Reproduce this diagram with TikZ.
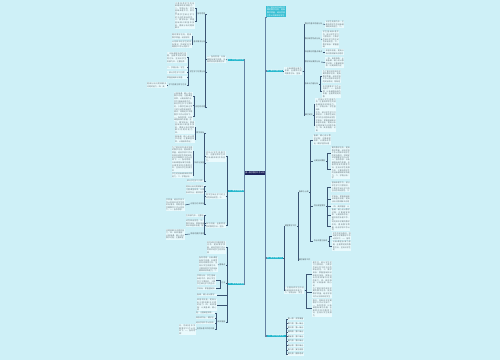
\documentclass[tikz,border=0pt]{standalone}
\usepackage{fontspec}
\setmainfont{Noto Sans CJK SC}
\usepackage{xstring}
\XeTeXlinebreaklocale "zh"
\XeTeXlinebreakskip=0pt plus 1pt
\definecolor{bgc}{RGB}{206,240,247}
\definecolor{blkfill}{RGB}{234,250,253}
\definecolor{txtgray}{RGB}{100,115,122}
\definecolor{linec}{RGB}{60,85,115}
\definecolor{trunkc}{RGB}{100,130,162}
\definecolor{tealc}{RGB}{32,182,204}
\definecolor{navyc}{RGB}{28,36,92}
\definecolor{notec}{RGB}{58,192,212}
\newcommand\tiniest{\fontsize{1.1pt}{1.45pt}\selectfont}
\newcommand\pool{为了更好地完成本学期的教学任务，提高教学质量，结合学校工作计划和本班学生的实际情况，特制定本学期教学工作计划如下。一、指导思想：以新课程标准为依据，全面贯彻党的教育方针，坚持以学生发展为本，注重培养学生的创新精神和实践能力。二、学情分析：学生基础参差不齐，部分学生学习习惯较好，少数学生缺乏学习的主动性和自觉性。三、教学目标：掌握基础知识和基本技能，提高分析问题和解决问题的能力。四、具体措施：认真备课，精心设计教学过程；注重课堂效率，认真批改作业；做好培优补差工作，关注每一位学生。}
\newcommand\tx[2]{\StrMid{\pool}{#1}{#2}}
\tikzset{
  blk/.style={text width=#1, align=justify, fill=blkfill, text=txtgray, inner sep=0.25pt, font=\tiniest},
  lbl/.style={text=txtgray!80!black, inner sep=0.25pt, font=\tiniest},
  mainbr/.style={fill=tealc, text=white, inner sep=0.3pt, minimum width=3.3mm, font=\tiniest},
  rootbox/.style={fill=navyc, text=white, inner sep=0.4pt, minimum width=4mm, font=\tiniest},
  notebox/.style={fill=notec, text=white, text width=3.6mm, align=justify, inner sep=0.4pt, font=\tiniest},
  link/.style={draw=linec, line width=0.3pt},
  trunk/.style={draw=trunkc, line width=0.6pt}
}
\begin{document}
\begin{tikzpicture}[x=0.02cm,y=-0.02cm]
\fill[bgc] (0,0) rectangle (500,360);
\useasboundingbox (0,0) rectangle (500,360);

% centre
\node[rootbox] (root) at (255,173) {高一数学教学工作计划};

% left, first branch
\node[mainbr] (L1) at (236,60) {一、学生情况分析};
\node[blk=3.6mm,anchor=east] (L1a) at (226,59.5) {\tx{58}{84}};
\node[lbl,anchor=east] (n11) at (206,14) {指导思想};
\node[blk=3.8mm,anchor=east] (b111) at (195,8.5) {\tx{96}{131}};
\node[blk=3.8mm,anchor=east] (b112) at (195,21.5) {\tx{140}{184}};
\node[lbl,anchor=east] (n12) at (206,42) {基本情况分析};
\node[blk=3.8mm,anchor=east] (b121) at (192,36) {\tx{10}{27}};
\node[blk=3.8mm,anchor=east] (b122) at (192,44.5) {\tx{30}{56}};
\node[lbl,anchor=east] (n13) at (206,72) {学生学习习惯分析};
\node[blk=3.8mm,anchor=east] (b131) at (187,57.5) {\tx{64}{99}};
\node[blk=3.8mm,anchor=east] (b132) at (187,67.5) {\tx{113}{121}};
\node[blk=3.8mm,anchor=east] (b133) at (187,72.5) {\tx{128}{136}};
\node[blk=3.8mm,anchor=east] (b134) at (187,77.5) {\tx{164}{171}};
\node[lbl,anchor=east] (n135) at (187,85) {学习态度与学习方法};
\node[blk=3.8mm,anchor=east] (b1351) at (167,85) {\tx{176}{193}};
\node[lbl,anchor=east] (n14) at (206,107) {存在的问题};
\node[blk=3.6mm,anchor=east] (b141) at (193,96) {\tx{198}{224}};
\node[blk=3.6mm,anchor=east] (b142) at (193,105.5) {\tx{120}{155}};
\node[blk=3.6mm,anchor=east] (b143) at (193,116) {\tx{40}{75}};

% left, second branch
\node[mainbr] (L2) at (236.5,191) {二、教学目标要求};
\node[blk=3.8mm,anchor=east] (L2a) at (226,156.5) {\tx{86}{112}};
\node[lbl,anchor=east] (n21) at (205,133) {教学目标};
\node[blk=3.8mm,anchor=east] (b211) at (195,127.5) {\tx{157}{192}};
\node[blk=3.8mm,anchor=east] (b212) at (195,139) {\tx{199}{225}};
\node[lbl,anchor=east] (n22) at (205,163) {知识与技能};
\node[blk=4mm,anchor=east] (b221) at (193,151.5) {\tx{1}{40}};
\node[blk=4mm,anchor=east] (b222) at (193,164) {\tx{45}{94}};
\node[blk=4mm,anchor=east] (b223) at (193,175.5) {\tx{100}{119}};
\node[blk=3.4mm,anchor=east] (b23) at (205,181) {\tx{129}{136}};
\node[blk=3.8mm,anchor=east] (L2b) at (226,196) {\tx{141}{158}};
\node[blk=3.6mm,anchor=east] (b24) at (205,186.5) {\tx{176}{184}};
\node[blk=3.6mm,anchor=east] (b25) at (205,191.5) {\tx{212}{229}};
\node[lbl,anchor=east] (n27) at (205,204) {过程与方法目标};
\node[blk=3.6mm,anchor=east] (b271) at (185,205) {\tx{20}{64}};
\node[blk=3.8mm,anchor=east] (L2c) at (226,225.5) {\tx{70}{87}};
\node[blk=3.6mm,anchor=east] (b28) at (205,215.5) {\tx{90}{98}};
\node[blk=3.6mm,anchor=east] (b29) at (205,223.5) {\tx{150}{176}};
\node[lbl,anchor=east] (n2a) at (205,234) {情感态度价值观};
\node[blk=3.6mm,anchor=east] (b2a1) at (185,234.5) {\tx{180}{215}};

% left, third branch
\node[mainbr] (L3) at (236.5,284) {三、教学具体措施};
\node[blk=3.6mm,anchor=east] (b31) at (226,247.5) {\tx{5}{40}};
\node[lbl,anchor=east] (n32) at (226,265) {重难点};
\node[blk=3.6mm,anchor=east] (b32) at (218,264.5) {\tx{60}{113}};
\node[lbl,anchor=east] (n33) at (226,283) {方法};
\node[blk=3.6mm,anchor=east] (b331) at (216,280) {\tx{115}{150}};
\node[blk=3.6mm,anchor=east] (b332) at (216,288.5) {\tx{160}{168}};
\node[blk=3.8mm,anchor=east] (b34) at (217,295) {\tx{200}{208}};
\node[blk=3.8mm,anchor=east] (b35) at (217,305) {\tx{170}{205}};
\node[lbl,anchor=east] (n36) at (226,322) {具体措施};
\node[blk=3.6mm,anchor=east] (b361) at (215,313) {\tx{210}{218}};
\node[blk=3.6mm,anchor=east] (b362) at (215,318) {\tx{220}{228}};
\node[blk=3.6mm,anchor=east] (b363) at (215,323) {\tx{24}{32}};
\node[lbl,anchor=east] (n364) at (215,329) {培优补差工作的开展};
\node[blk=3.2mm,anchor=east] (b3641) at (196,329.5) {\tx{41}{64}};

% right, note and first branch
\node[notebox,anchor=west] (R0) at (266,11.5) {\tx{1}{36}};
\node[mainbr] (R1) at (274.5,71) {四、教材内容分析};
\node[blk=3.4mm,anchor=west] (R1a) at (284,71) {\tx{64}{87}};
\node[lbl,anchor=west] (n11r) at (304,24) {教材的基本内容分析};
\node[blk=3.6mm,anchor=west] (b11r) at (325,24.5) {\tx{88}{114}};
\node[lbl,anchor=west] (n12r) at (304,39) {教材编写特点分析};
\node[blk=3.2mm,anchor=west] (b12r) at (322,39.5) {\tx{120}{167}};
\node[lbl,anchor=west] (n13r) at (304,52) {本册教材的重点难点};
\node[blk=3.6mm,anchor=west] (b13r) at (325,52) {\tx{170}{187}};
\node[lbl,anchor=west] (n14r) at (304,62) {教学目标要求分析};
\node[blk=3.6mm,anchor=west] (b14r) at (325,62.5) {\tx{190}{225}};
\node[lbl,anchor=west] (n15r) at (304,84) {各单元内容分析};
\node[blk=3.6mm,anchor=west] (b151r) at (322,76.5) {\tx{1}{45}};
\node[blk=3.6mm,anchor=west] (b152r) at (322,91.5) {\tx{46}{81}};
\node[lbl,anchor=west] (n16r) at (304,115) {课时安排};
\node[blk=4mm,anchor=west] (b161r) at (315,104.5) {\tx{85}{124}};
\node[blk=4mm,anchor=west] (b162r) at (315,115) {\tx{126}{155}};
\node[blk=4mm,anchor=west] (b163r) at (315,125.5) {\tx{160}{199}};

% right, second branch
\node[mainbr] (R2) at (274.5,258) {五、教学常规工作};
\node[lbl,anchor=west] (n21r) at (284,226) {课堂教学工作};
\node[lbl,anchor=west] (n211) at (298,192) {备课与上课};
\node[blk=3.4mm,anchor=west] (b2111) at (313,140) {\tx{200}{231}};
\node[lbl,anchor=west] (n2112) at (313,161) {认真钻研教材};
\node[blk=3.6mm,anchor=west] (b2112a) at (331,153) {\tx{10}{54}};
\node[blk=3.6mm,anchor=west] (b2112b) at (331,169) {\tx{58}{120}};
\node[lbl,anchor=west] (n2113) at (313,206) {优化课堂教学};
\node[blk=3.6mm,anchor=west] (b2113a) at (331,187) {\tx{122}{157}};
\node[blk=3.6mm,anchor=west] (b2113b) at (331,199) {\tx{160}{186}};
\node[blk=3.6mm,anchor=west] (b2113c) at (331,206.5) {\tx{190}{198}};
\node[blk=3.6mm,anchor=west] (b2113d) at (331,215) {\tx{200}{235}};
\node[blk=3.6mm,anchor=west] (b2113e) at (331,226) {\tx{5}{31}};
\node[lbl,anchor=west] (n2114) at (313,241) {作业布置与批改};
\node[blk=3.6mm,anchor=west] (b2114a) at (332,236) {\tx{35}{61}};
\node[blk=3.6mm,anchor=west] (b2114b) at (332,246) {\tx{65}{91}};
\node[lbl,anchor=west] (n212) at (298,260) {课后辅导工作};
\node[blk=3.8mm,anchor=west] (n22r) at (284,290.5) {\tx{95}{121}};
\node[blk=3.8mm,anchor=west] (b221r) at (312,274) {\tx{125}{205}};
\node[blk=3.8mm,anchor=west] (b222r) at (312,292.5) {\tx{1}{36}};
\node[blk=3.8mm,anchor=west] (b223r) at (312,308) {\tx{40}{93}};

% right, third branch
\node[mainbr,minimum width=3.8mm] (R3) at (276,336) {六、教学进度安排};
\foreach \i/\t in {0/第一周：开学准备,1/第二周：第一单元,2/第三周：第一单元,3/第四周：第二单元,4/第五周：第二单元,5/第六周：第三单元,6/第七周：第三单元,7/第八周：复习测验,8/第九周：期中考试}{
  \node[lbl,fill=blkfill,anchor=west] (r3c\i) at (287,{319+4.4*\i}) {\t};
  \draw[link] (R3.east) -- ++(0.8,0) |- (r3c\i.west);
}

% trunks
\draw[trunk] (root.west) |- (L1.east);
\draw[trunk] (root.west) |- (L2.east);
\draw[trunk] (root.west) |- (L3.east);
\draw[trunk] (root.east) |- (R0.south west);
\draw[trunk] (root.east) |- (R1.west);
\draw[trunk] (root.east) |- (R2.west);
\draw[trunk] (root.east) |- (R3.west);

% left connectors
\draw[link] (L1.west) -- (L1a.east);
\foreach \c in {n11,n12,n13,n14} \draw[link] (L1a.west) -- ++(-0.8,0) |- (\c.east);
\foreach \c in {b111,b112} \draw[link] (n11.west) -- ++(-0.6,0) |- (\c.east);
\foreach \c in {b121,b122} \draw[link] (n12.west) -- ++(-0.6,0) |- (\c.east);
\foreach \c in {b131,b132,b133,b134,n135} \draw[link] (n13.west) -- ++(-0.6,0) |- (\c.east);
\draw[link] (n135.west) -- (b1351.east);
\foreach \c in {b141,b142,b143} \draw[link] (n14.west) -- ++(-0.6,0) |- (\c.east);
\foreach \c in {L2a,L2b,L2c} \draw[link] (L2.west) -- ++(-0.8,0) |- (\c.east);
\foreach \c in {n21,n22,b23} \draw[link] (L2a.west) -- ++(-0.8,0) |- (\c.east);
\foreach \c in {b211,b212} \draw[link] (n21.west) -- ++(-0.6,0) |- (\c.east);
\foreach \c in {b221,b222,b223} \draw[link] (n22.west) -- ++(-0.6,0) |- (\c.east);
\foreach \c in {b24,b25,n27} \draw[link] (L2b.west) -- ++(-0.8,0) |- (\c.east);
\draw[link] (n27.west) -- (b271.east);
\foreach \c in {b28,b29,n2a} \draw[link] (L2c.west) -- ++(-0.8,0) |- (\c.east);
\draw[link] (n2a.west) -- (b2a1.east);
\foreach \c in {b31,n32,n33,b34,b35,n36} \draw[link] (L3.west) -- ++(-0.8,0) |- (\c.east);
\draw[link] (n32.west) -- (b32.east);
\foreach \c in {b331,b332} \draw[link] (n33.west) -- ++(-0.6,0) |- (\c.east);
\foreach \c in {b361,b362,b363,n364} \draw[link] (n36.west) -- ++(-0.6,0) |- (\c.east);
\draw[link] (n364.west) -- (b3641.east);

% right connectors
\draw[link] (R1.east) -- (R1a.west);
\foreach \c in {n11r,n12r,n13r,n14r,n15r,n16r} \draw[link] (R1a.east) -- ++(1.2,0) |- (\c.west);
\draw[link] (n11r.east) -- (b11r.west);
\draw[link] (n12r.east) -- (b12r.west);
\draw[link] (n13r.east) -- (b13r.west);
\draw[link] (n14r.east) -- (b14r.west);
\foreach \c in {b151r,b152r} \draw[link] (n15r.east) -- ++(0.8,0) |- (\c.west);
\foreach \c in {b161r,b162r,b163r} \draw[link] (n16r.east) -- ++(0.8,0) |- (\c.west);
\foreach \c in {n21r,n22r} \draw[link] (R2.east) -- ++(0.8,0) |- (\c.west);
\foreach \c in {n211,n212} \draw[link] (n21r.east) -- ++(0.8,0) |- (\c.west);
\foreach \c in {b2111,n2112,n2113,n2114} \draw[link] (n211.east) -- ++(1.5,0) |- (\c.west);
\foreach \c in {b2112a,b2112b} \draw[link] (n2112.east) -- ++(1.5,0) |- (\c.west);
\foreach \c in {b2113a,b2113b,b2113c,b2113d,b2113e} \draw[link] (n2113.east) -- ++(1.5,0) |- (\c.west);
\foreach \c in {b2114a,b2114b} \draw[link] (n2114.east) -- ++(1.5,0) |- (\c.west);
\foreach \c in {b221r,b222r,b223r} \draw[link] (n22r.east) -- ++(1.5,0) |- (\c.west);
\end{tikzpicture}
\end{document}
